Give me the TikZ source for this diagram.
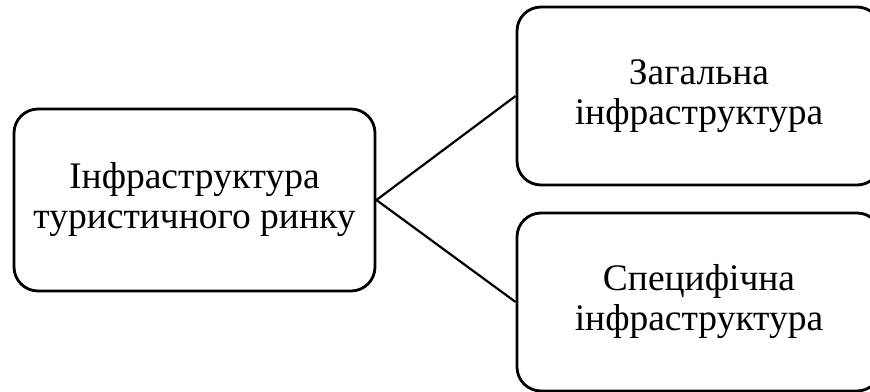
\documentclass[tikz,border=0pt]{standalone}
\usepackage{fontspec}
\setmainfont{Liberation Serif}
\begin{document}
\begin{tikzpicture}[x=1pt,y=-1pt,
  box/.style={draw=black, line width=2.8pt, rounded corners=24pt, align=center,
    font=\fontsize{37.5}{40}\selectfont, inner sep=0pt},
  link/.style={draw=black, line width=2.2pt}]
\useasboundingbox (0,0) rectangle (870,391);
\node[box, minimum width=361pt, minimum height=182pt] (root) at (194.5,200) {Інфраструктура\\туристичного ринку};
\node[box, minimum width=364pt, minimum height=178pt] (gen) at (699,96) {Загальна\\інфраструктура};
\node[box, minimum width=364pt, minimum height=178pt] (spec) at (699,302) {Специфічна\\інфраструктура};
\draw[link] (root.east) -- (gen.west);
\draw[link] (root.east) -- (spec.west);
\end{tikzpicture}
\end{document}
